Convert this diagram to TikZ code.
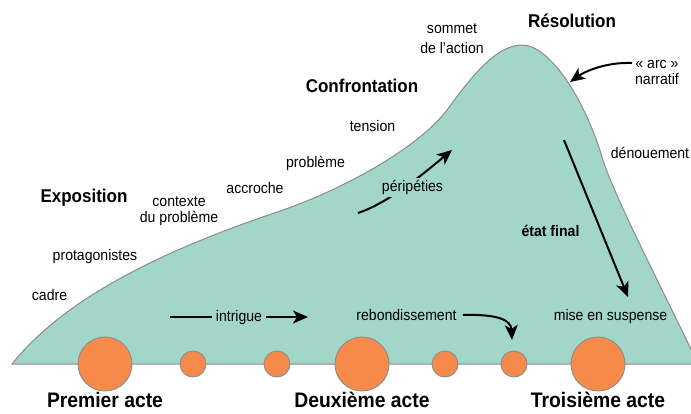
\documentclass[tikz,border=0pt]{standalone}
\usepackage{fontspec}
\setmainfont[FakeStretch=0.92]{Liberation Sans}
\usetikzlibrary{arrows.meta}
\definecolor{arcfill}{HTML}{A1D6C8}
\definecolor{acteorange}{HTML}{F58A4B}
\definecolor{bordgris}{HTML}{8C8C8C}
\begin{document}
\begin{tikzpicture}[x=1pt,y=-1pt,
  etape/.style={font=\fontsize{15.3}{16}\selectfont,text height=11.5pt,text depth=3.4pt,inner sep=1pt},
  etapes/.style={font=\fontsize{15.3}{16}\selectfont,align=center,inner sep=0pt},
  phase/.style={font=\fontsize{18.5}{20}\selectfont\bfseries,text height=13.9pt,text depth=4.1pt,inner sep=0pt},
  acte/.style={font=\fontsize{21}{22}\selectfont\bfseries,text height=15.8pt,text depth=4.6pt,inner sep=0pt},
  fleche/.style={line width=2pt,-{Stealth[length=15pt,width=13pt,inset=4pt]}},
  rond/.style={circle,fill=acteorange,draw=bordgris,line width=.9pt,inner sep=0pt}]
\useasboundingbox (0,0) rectangle (691,413);
% la courbe de l'arc narratif
\begin{scope}
\clip (0,0) rectangle (691,413);
\fill[arcfill,draw=bordgris,line width=1pt] (12,364) .. controls (75,285) and (200,238) .. (283,210)
  .. controls (343,189) and (417,149) .. (447,110) .. controls (469,80) and (495,45) .. (522,45)
  .. controls (550,45) and (585,100) .. (602,157) .. controls (614,197) and (670,304) .. (698,364) -- cycle;
\end{scope}
% les actes
\foreach \x/\d [count=\i] in {105/54,193/26,277/26,362/54,445/26,514/26,598/54}{\node[rond,minimum size=\d pt] (c\i) at (\x,364) {};}
\node[acte] (a1) at (105,402) {Premier acte};
\node[acte] (a2) at (362,402) {Deuxième acte};
\node[acte] (a3) at (598,402) {Troisième acte};
% les phases
\node[phase] (expo) at (84,198) {Exposition};
\node[phase] (confr) at (362,88) {Confrontation};
\node[phase] (resol) at (572,23) {Résolution};
% les étapes
\node[etape] (cadre) at (49.5,296.6) {cadre};
\node[etape] (prota) at (95,256) {protagonistes};
\node[etapes] (ctx) at (179,211) {contexte\\[-.3pt]du problème};
\node[etape] (accr) at (255,189.3) {accroche};
\node[etape] (pb) at (315.5,163.6) {problème};
\node[etape] (tens) at (372.5,127.6) {tension};
\node[etapes] (somm) at (452,38.5) {sommet\\[4pt]de l’action};
\node[etapes] (arc) at (657,72) {« arc »\\narratif};
\node[etape] (denou) at (650,154.3) {dénouement};
\node[etape] (mes) at (610.5,316.6) {mise en suspense};
\node[etape] (rebond) at (406.5,316.6) {rebondissement};
\node[etape,font=\fontsize{15.3}{16}\selectfont\bfseries] (etat) at (550.5,232) {état final};
% les flèches
\coordinate (p0) at (358,213); \coordinate (p1) at (452,150);
\coordinate (r0) at (463,315); \coordinate (r1) at (512,340);
\coordinate (n0) at (632,63); \coordinate (n1) at (570,82);
\coordinate (e0) at (564,140); \coordinate (e1) at (628,297);
\coordinate (i0) at (170,317); \coordinate (i1) at (308,317);
\draw[fleche] (p0) .. controls (388,203) and (422,175) .. (p1);
\draw[fleche] (r0) .. controls (498,314) and (511,320) .. (r1);
\draw[fleche] (n0) .. controls (605,62) and (584,72) .. (n1);
\draw[fleche] (e0) -- (e1);
\draw[fleche] (i0) -- node[etape,fill=arcfill,inner sep=4pt] (intr) {intrigue} (i1);
\node[etape,fill=arcfill,inner sep=2pt] (peri) at (412.5,187.6) {péripéties};
\end{tikzpicture}
\end{document}
